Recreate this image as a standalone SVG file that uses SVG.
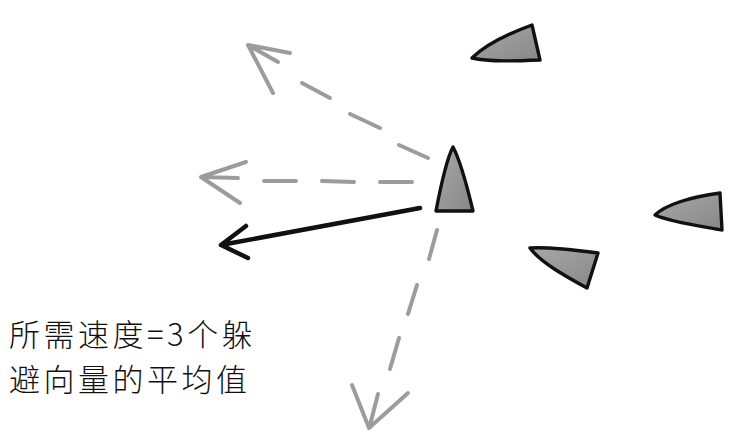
<svg xmlns="http://www.w3.org/2000/svg" width="752" height="448" viewBox="0 0 752 448">
<defs>
<linearGradient id="g" x1="0" y1="0" x2="1" y2="1">
<stop offset="0" stop-color="#a8a8a8"/>
<stop offset="1" stop-color="#888"/>
</linearGradient>
<style>
.boid{fill:url(#g);stroke:#111;stroke-width:3.4;stroke-linejoin:round}
.dash{fill:none;stroke:#9c9c9c;stroke-width:4;stroke-linecap:round;stroke-linejoin:round}
.solid{fill:none;stroke:#111;stroke-width:4.5;stroke-linecap:round;stroke-linejoin:round}
.lbl{font-family:"Noto Sans CJK SC","Noto Sans",sans-serif;font-size:31px;font-weight:300;letter-spacing:3.5px;fill:#111}
</style>
</defs>
<rect width="752" height="448" fill="#fff"/>
<g id="boid-center"><path class="boid" d="M453,147 C460,160 468,190 473,211 L436,211 C440,190 446,160 453,147 Z"/></g>
<g id="boid-top"><path class="boid" d="M472,58 C485,45 510,33 532,25 L540,60 C515,61 490,62 472,58 Z"/></g>
<g id="boid-right"><path class="boid" d="M655,215 C665,205 690,197 720,193 L722,230 C700,226 670,222 655,215 Z"/></g>
<g id="boid-bottom"><path class="boid" d="M530,248 C545,247 575,250 598,253 L587,288 C565,276 540,262 530,248 Z"/></g>
<g id="connectors">
<g id="arrow-upleft">
<path class="dash" d="M302,83 L330,98 M350,114 L380,128 M399,145 L428,158"/>
<path class="dash" d="M290,53 L248,45 L273,93 M248,45 L278,62"/>
</g>
<g id="arrow-left">
<path class="dash" d="M264,181 L296,181 M322,181 L354,182 M380,182 L412,182"/>
<path class="dash" d="M246,162 L201,177 L240,203 M201,177 L238,178"/>
</g>
<g id="arrow-solid">
<path class="solid" d="M420,208 L221,245 M246,226 L221,245 L248,258"/>
</g>
<g id="arrow-down">
<path class="dash" d="M437,230 L429,259 M417,285 L408,314 M399,338 L390,369"/>
<path class="dash" d="M352,385 L369,428 L408,393 M378,394 L370,425"/>
</g>
</g>
<g id="label">
<text class="lbl" x="9" y="346">所需速度=3个躲</text>
<text class="lbl" x="9" y="391">避向量的平均值</text>
</g>
</svg>
